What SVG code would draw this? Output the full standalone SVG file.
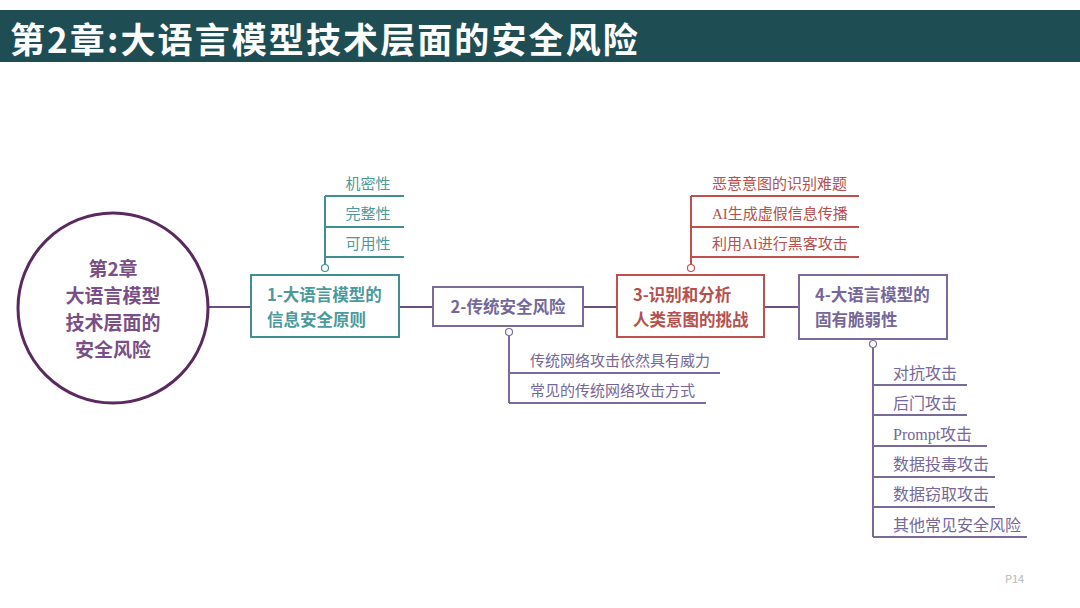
<svg xmlns="http://www.w3.org/2000/svg" width="1080" height="608" viewBox="0 0 1080 608">
<style>
text{font-family:"Noto Sans CJK SC","Noto Sans",sans-serif}
.title{font-size:35px;font-weight:bold;fill:#ffffff}
.ct{font-size:19px;font-weight:bold;fill:#7a4f86;text-anchor:middle}
.bt{font-size:16.5px;font-weight:bold}
.st{font-size:15px;font-family:"Liberation Serif","Noto Sans CJK SC",serif}
.st4{font-size:16px}
.teal{fill:#4a9a9c}
.red{fill:#b5504e}
.pur{fill:#76679a}
.box{fill:#ffffff;stroke-width:2}
.ln{fill:none;stroke-width:2}
.dot{fill:#ffffff;stroke-width:1.2}
</style>
<rect width="1080" height="608" fill="#ffffff"/>
<g id="header">
<rect x="0" y="10" width="1080" height="52" fill="#1e4e54"/>
<text class="title" x="10" y="53" letter-spacing="2.1">第2章:大语言模型技术层面的安全风险</text>
</g>
<g id="connectors">
<path class="ln" stroke="#6e4f85" d="M209 307H251M399 307H433M583 307H617M764 307H799"/>
<path class="ln" stroke="#3f9094" d="M325 265V196M325 196H404M325 227H404M325 257H404"/>
<path class="ln" stroke="#7a6a9a" d="M509 336V403M509 373H720M509 403H706"/>
<path class="ln" stroke="#c0504d" d="M691 265V196M691 196H859M691 227H859M691 257H859"/>
<path class="ln" stroke="#7a6a9a" d="M873 347V537M873 385H967M873 415H967M873 446H987M873 477H995M873 507H995M873 537H1027"/>
<circle class="dot" stroke="#3f9094" cx="325" cy="268" r="3.5"/>
<circle class="dot" stroke="#7a6a9a" cx="509" cy="332" r="3.5"/>
<circle class="dot" stroke="#c0504d" cx="691" cy="268" r="3.5"/>
<circle class="dot" stroke="#7a6a9a" cx="873" cy="344" r="3.5"/>
</g>
<g id="root">
<circle cx="113" cy="308" r="95" fill="#ffffff" stroke="#5a2a5e" stroke-width="3"/>
<text class="ct" x="113" y="276">第2章</text>
<text class="ct" x="113" y="303">大语言模型</text>
<text class="ct" x="113" y="330">技术层面的</text>
<text class="ct" x="113" y="357">安全风险</text>
</g>
<g id="node1">
<rect class="box" x="251" y="275" width="148" height="62" stroke="#3f9094"/>
<text class="bt teal" x="267" y="301">1-大语言模型的</text>
<text class="bt teal" x="267" y="326">信息安全原则</text>
</g>
<g id="node1-items">
<text class="st teal" x="368" y="189" text-anchor="middle">机密性</text>
<text class="st teal" x="368" y="219" text-anchor="middle">完整性</text>
<text class="st teal" x="368" y="249" text-anchor="middle">可用性</text>
</g>
<g id="node2">
<rect class="box" x="433" y="287" width="150" height="39" stroke="#7a6a9a"/>
<text class="bt pur" x="508" y="313" text-anchor="middle">2-传统安全风险</text>
</g>
<g id="node2-items">
<text class="st pur" x="530" y="366">传统网络攻击依然具有威力</text>
<text class="st pur" x="530" y="396">常见的传统网络攻击方式</text>
</g>
<g id="node3">
<rect class="box" x="617" y="275" width="147" height="62" stroke="#c0504d"/>
<text class="bt red" x="633" y="301">3-识别和分析</text>
<text class="bt red" x="633" y="326">人类意图的挑战</text>
</g>
<g id="node3-items">
<text class="st red" x="712" y="189">恶意意图的识别难题</text>
<text class="st red" x="712" y="219">AI生成虚假信息传播</text>
<text class="st red" x="712" y="249">利用AI进行黑客攻击</text>
</g>
<g id="node4">
<rect class="box" x="799" y="275" width="148" height="64" stroke="#7a6a9a"/>
<text class="bt pur" x="815" y="301">4-大语言模型的</text>
<text class="bt pur" x="815" y="326">固有脆弱性</text>
</g>
<g id="node4-items">
<text class="st st4 pur" x="893" y="379">对抗攻击</text>
<text class="st st4 pur" x="893" y="409">后门攻击</text>
<text class="st st4 pur" x="893" y="440">Prompt攻击</text>
<text class="st st4 pur" x="893" y="470">数据投毒攻击</text>
<text class="st st4 pur" x="893" y="500">数据窃取攻击</text>
<text class="st st4 pur" x="893" y="531">其他常见安全风险</text>
</g>
<text x="1005" y="583" font-size="11" fill="#b8b8b8" font-family="Liberation Sans,sans-serif">P14</text>
</svg>
